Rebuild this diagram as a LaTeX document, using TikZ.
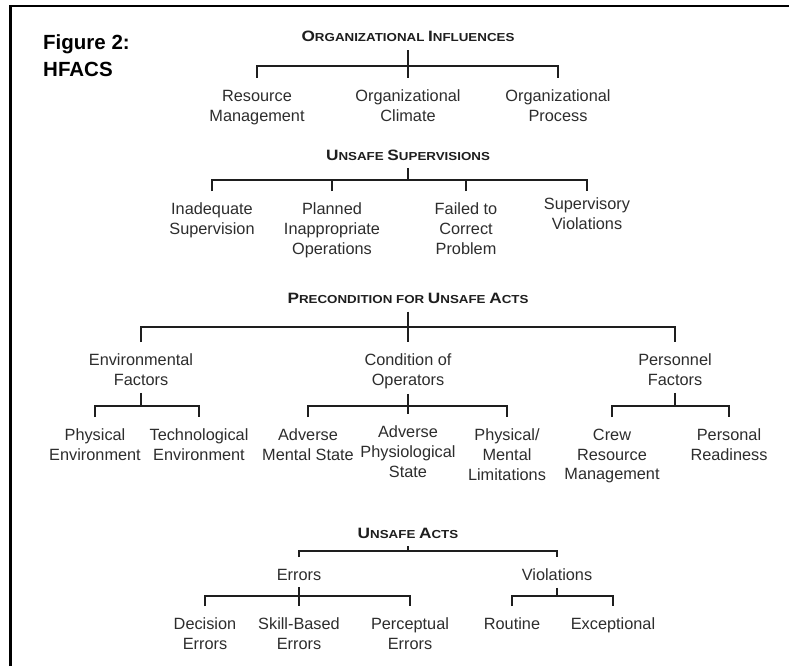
\documentclass[tikz,border=0pt]{standalone}
\usepackage{fontspec}
\usepackage{xcolor}
\usepackage{tikz}
\usetikzlibrary{positioning, calc}
\setmainfont{Liberation Sans}
\newfontfamily\headfont{Liberation Sans}[FakeStretch=1.15]
\definecolor{inkgray}{RGB}{30,30,30}
\definecolor{textgray}{RGB}{45,45,45}
\newcommand{\capword}[2]{{\fontsize{15}{18}\selectfont #1}#2}

\begin{document}
\begin{tikzpicture}[
    x=1pt, y=-1pt,
    heading/.style={anchor=base, inner sep=0pt, outer ysep=8pt, text=inkgray, font=\headfont\bfseries\fontsize{11.6}{14}\selectfont},
    item/.style={anchor=north, align=center, inner sep=0pt, outer sep=0pt, text=textgray, font=\fontsize{16.3}{19.8}\selectfont},
    figlabel/.style={anchor=north west, align=left, inner sep=0pt, font=\bfseries\fontsize{20.5}{27}\selectfont},
    link/.style={draw=inkgray, line width=2.7pt},
    frame/.style={draw=black, line width=2.4pt}
]

    \fill[white] (0,0) rectangle (789,666);
    \useasboundingbox (0,0) rectangle (789,666);
    \draw[frame] (10.5,666) -- (10.5,6) -- (789,6);

    \node[figlabel] (fig) at (43,34) {Figure 2:\\HFACS};

    % organizational influences
    \node[heading] (oi) at (408,42) {\capword{O}{RGANIZATIONAL} \capword{I}{NFLUENCES}};
    \node[item] (rm) at (257,90) {Resource\\Management};
    \node[item] (oc) at (408,90) {Organizational\\Climate};
    \node[item] (op) at (558,90) {Organizational\\Process};

    \draw[link] (oi.south) -- ([yshift=12pt]oc.north);
    \draw[link] ([yshift=12pt]rm.north) -- ++(0,-12) -| ([yshift=12pt]op.north);

    % unsafe supervisions
    \node[heading] (us) at (408,160) {\capword{U}{NSAFE} \capword{S}{UPERVISIONS}};
    \node[item] (ia) at (212,203) {Inadequate\\Supervision};
    \node[item] (pio) at (332,203) {Planned\\Inappropriate\\Operations};
    \node[item] (fc) at (466,203) {Failed to\\Correct\\Problem};
    \node[item] (sv) at (587,198) {Supervisory\\Violations};

    \draw[link] (us.south) -- ++(0,12);
    \draw[link] ([yshift=12pt]ia.north) -- ++(0,-11) -| ([yshift=7pt]sv.north);
    \draw[link] ([yshift=12pt]pio.north) -- ++(0,-11);
    \draw[link] ([yshift=12pt]fc.north) -- ++(0,-11);

    % preconditions
    \node[heading] (pre) at (408,303.5) {\capword{P}{RECONDITION} FOR \capword{U}{NSAFE} \capword{A}{CTS}};
    \node[item] (ef) at (141,354) {Environmental\\Factors};
    \node[item] (co) at (408,354) {Condition of\\Operators};
    \node[item] (pf) at (675,354) {Personnel\\Factors};

    \draw[link] (pre.south) -- ([yshift=12pt]co.north);
    \draw[link] ([yshift=12pt]ef.north) -- ++(0,-15) -| ([yshift=12pt]pf.north);

    \node[item] (pe) at (95,429) {Physical\\Environment};
    \node[item] (te) at (199,429) {Technological\\Environment};
    \node[item] (ams) at (308,429) {Adverse\\Mental State};
    \node[item] (aps) at (408,426) {Adverse\\Physiological\\State};
    \node[item] (pml) at (507,429) {Physical/\\Mental\\Limitations};
    \node[item] (crm) at (612,429) {Crew\\Resource\\Management};
    \node[item] (pr) at (729,429) {Personal\\Readiness};

    \draw[link] ([yshift=-7pt]ef.south) -- ++(0,13);
    \draw[link] ([yshift=12pt]pe.north) -- ++(0,-11) -| ([yshift=12pt]te.north);
    \draw[link] ([yshift=-5pt]co.south) -- ([yshift=12pt]aps.north);
    \draw[link] ([yshift=12pt]ams.north) -- ++(0,-11) -| ([yshift=12pt]pml.north);
    \draw[link] ([yshift=-7pt]pf.south) -- ++(0,13);
    \draw[link] ([yshift=12pt]crm.north) -- ++(0,-11) -| ([yshift=12pt]pr.north);

    % unsafe acts
    \node[heading] (ua) at (408,538) {\capword{U}{NSAFE} \capword{A}{CTS}};
    \node[item] (er) at (299,569) {Errors};
    \node[item] (vi) at (557,569) {Violations};

    \draw[link] (ua.south) -- ++(0,5);
    \draw[link] ([yshift=12pt]er.north) -- ++(0,-6) -| ([yshift=12pt]vi.north);

    \node[item] (de) at (205,618) {Decision\\Errors};
    \node[item] (sb) at (299,618) {Skill-Based\\Errors};
    \node[item] (pce) at (410,618) {Perceptual\\Errors};
    \node[item] (ro) at (512,618) {Routine};
    \node[item] (ex) at (613,618) {Exceptional};

    \draw[link] ([yshift=-7pt]er.south) -- ([yshift=12pt]sb.north);
    \draw[link] ([yshift=12pt]de.north) -- ++(0,-10) -| ([yshift=12pt]pce.north);
    \draw[link] ([yshift=-7pt]vi.south) -- ++(0,8);
    \draw[link] ([yshift=12pt]ro.north) -- ++(0,-10) -| ([yshift=12pt]ex.north);

\end{tikzpicture}
\end{document}
